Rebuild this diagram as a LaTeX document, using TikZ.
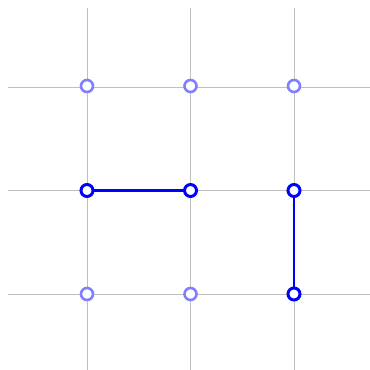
\documentclass[tikz,border=0pt]{standalone}
\begin{document}
\begin{tikzpicture}[x=1pt,y=-1pt,
  gridline/.style={draw=black!25,line width=1pt},
  faint/.style={circle,draw=blue!50,fill=white,line width=2.6pt,minimum size=12pt,inner sep=0pt},
  strong/.style={circle,draw=blue,fill=white,line width=3pt,minimum size=12pt,inner sep=0pt},
  link/.style={draw=blue,line width=2.2pt}]
\useasboundingbox (0,0) rectangle (370,370);
\foreach \v in {87,190.5,294}{
  \draw[gridline] (\v,8) -- (\v,370);
  \draw[gridline] (8,\v) -- (370,\v);
}
\draw[link] (87,190.5) -- (190.5,190.5);
\draw[link] (294,190.5) -- (294,294);
\node[faint] (a1) at (87,86) {};
\node[faint] (a2) at (190.5,86) {};
\node[faint] (a3) at (294,86) {};
\node[strong] (b1) at (87,190.5) {};
\node[strong] (b2) at (190.5,190.5) {};
\node[strong] (b3) at (294,190.5) {};
\node[faint] (c1) at (87,294) {};
\node[faint] (c2) at (190.5,294) {};
\node[strong] (c3) at (294,294) {};
\end{tikzpicture}
\end{document}
